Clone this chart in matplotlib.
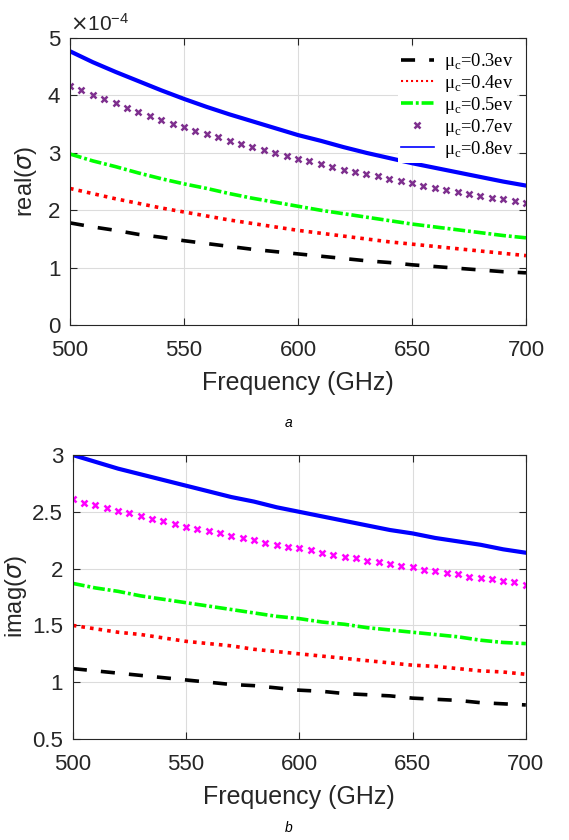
import matplotlib
matplotlib.use('Agg')
import matplotlib.pyplot as plt
import numpy as np

plt.rcParams['font.family'] = ['Liberation Sans', 'DejaVu Sans']

# frecuencias (GHz)
freq = [500, 510, 520, 530, 540, 550, 560, 570, 580, 590, 600,
        610, 620, 630, 640, 650, 660, 670, 680, 690, 700]
freq_mk = [500, 505, 510, 515, 520, 525, 530, 535, 540, 545, 550,
           555, 560, 565, 570, 575, 580, 585, 590, 595, 600,
           605, 610, 615, 620, 625, 630, 635, 640, 645, 650,
           655, 660, 665, 670, 675, 680, 685, 690, 695, 700]

# parte real (x1e-4)
re_03 = [1.78, 1.71, 1.65, 1.58, 1.53, 1.47, 1.42, 1.37, 1.32, 1.28, 1.24,
         1.20, 1.16, 1.12, 1.09, 1.05, 1.02, 0.99, 0.96, 0.93, 0.91]
re_04 = [2.38, 2.29, 2.20, 2.12, 2.04, 1.97, 1.90, 1.83, 1.77, 1.71, 1.65,
         1.60, 1.55, 1.50, 1.45, 1.41, 1.37, 1.33, 1.29, 1.25, 1.21]
re_05 = [2.98, 2.86, 2.76, 2.65, 2.55, 2.46, 2.38, 2.29, 2.21, 2.14, 2.07,
         2.00, 1.94, 1.88, 1.82, 1.76, 1.71, 1.66, 1.61, 1.56, 1.52]
re_07 = [4.17, 4.09, 4.01, 3.93, 3.86, 3.78, 3.71, 3.64, 3.57, 3.51, 3.45,
         3.38, 3.32, 3.27, 3.21, 3.15, 3.10, 3.05, 2.99, 2.94, 2.90,
         2.85, 2.80, 2.76, 2.71, 2.67, 2.63, 2.59, 2.55, 2.51, 2.47,
         2.43, 2.39, 2.36, 2.32, 2.29, 2.25, 2.22, 2.19, 2.16, 2.13]
re_08 = [4.77, 4.58, 4.41, 4.25, 4.09, 3.94, 3.80, 3.67, 3.55, 3.43, 3.31,
         3.21, 3.10, 3.00, 2.91, 2.82, 2.74, 2.66, 2.58, 2.50, 2.43]

# parte imaginaria
im_03 = [1.12, 1.10, 1.08, 1.06, 1.04, 1.02, 1.00, 0.98, 0.97, 0.95, 0.93,
         0.92, 0.90, 0.89, 0.88, 0.86, 0.85, 0.84, 0.82, 0.81, 0.80]
im_04 = [1.50, 1.47, 1.44, 1.42, 1.39, 1.36, 1.34, 1.32, 1.29, 1.27, 1.25,
         1.23, 1.21, 1.19, 1.17, 1.15, 1.14, 1.12, 1.10, 1.09, 1.07]
im_05 = [1.87, 1.83, 1.80, 1.76, 1.73, 1.70, 1.67, 1.64, 1.61, 1.58, 1.56,
         1.53, 1.51, 1.48, 1.46, 1.44, 1.42, 1.40, 1.37, 1.35, 1.34]
im_07 = [2.61, 2.58, 2.56, 2.53, 2.51, 2.49, 2.46, 2.44, 2.42, 2.39, 2.37,
         2.35, 2.33, 2.31, 2.29, 2.27, 2.25, 2.23, 2.21, 2.19, 2.18,
         2.16, 2.14, 2.12, 2.10, 2.09, 2.07, 2.06, 2.04, 2.02, 2.01,
         1.99, 1.98, 1.96, 1.95, 1.93, 1.92, 1.91, 1.89, 1.88, 1.86]
im_08 = [3.00, 2.94, 2.88, 2.83, 2.78, 2.73, 2.68, 2.63, 2.59, 2.54, 2.50,
         2.46, 2.42, 2.38, 2.34, 2.31, 2.27, 2.24, 2.21, 2.17, 2.14]

labels = ['μ$_\\mathregular{c}$=0.3ev', 'μ$_\\mathregular{c}$=0.4ev',
          'μ$_\\mathregular{c}$=0.5ev', 'μ$_\\mathregular{c}$=0.7ev',
          'μ$_\\mathregular{c}$=0.8ev']
xticks = [500, 550, 600, 650, 700]

txt = '#262626'


def estilo(ax):
    ax.set_xlim(500, 700)
    ax.set_xticks(xticks)
    ax.grid(True, color='#dcdcdc', linewidth=0.8)
    ax.set_axisbelow(True)
    ax.tick_params(direction='in', top=True, right=True, labelsize=16,
                   length=5, width=0.8, color=txt, labelcolor=txt)
    ax.tick_params(axis='x', pad=11)
    ax.tick_params(axis='y', pad=7)
    for s in ax.spines.values():
        s.set_color(txt)
        s.set_linewidth(0.8)
    ax.set_xlabel('Frequency (GHz)', fontsize=18, color=txt, labelpad=7)


def curvas(ax, d03, d04, d05, d07, d08, c07):
    ax.plot(freq, d03, color='black', lw=2.6, dashes=(3.9, 3.9), label=labels[0])
    ax.plot(freq, d04, color='red', lw=2.6, dashes=(1, 1.4), label=labels[1])
    ax.plot(freq, d05, color='#00ff00', lw=2.6, dashes=(3.3, 0.8, 0.8, 0.8), label=labels[2])
    ax.plot(freq_mk, d07, linestyle='none', marker='x', ms=5, mew=1.8,
            color=c07, label=labels[3])
    ax.plot(freq, d08, color='#0000ff', lw=3, label=labels[4])


fig = plt.figure(figsize=(5.69, 8.40), dpi=100)

# (a) parte real
ax1 = fig.add_axes([0.123, 0.613, 0.8014, 0.3417])
curvas(ax1, re_03, re_04, re_05, re_07, re_08, '#7e2f8e')
ax1.set_ylim(0, 5)
ax1.set_yticks([0, 1, 2, 3, 4, 5])
estilo(ax1)
ax1.set_ylabel(r'real($\sigma$)', fontsize=17, color=txt, labelpad=6)
ax1.text(0.0, 1.012, r'$\times\mathregular{10^{-4}}$', transform=ax1.transAxes,
         fontsize=15, color=txt, ha='left', va='bottom')
leg = ax1.legend(loc='upper right', frameon=True, fancybox=False,
                 prop={'family': 'Liberation Serif', 'size': 13.3},
                 handlelength=1.75, handletextpad=0.55, labelspacing=0.05,
                 borderaxespad=0.5, borderpad=0.2)
leg.get_frame().set_edgecolor('none')
leg.get_frame().set_facecolor('white')
leg.get_frame().set_alpha(1)
# lineas finas en la leyenda para rojo y azul
leg.get_lines()[1].set_linewidth(1.5)
leg.get_lines()[4].set_linewidth(1.2)
fig.text(0.508, 0.497, 'a', fontsize=10, style='italic', ha='center', va='center')

# (b) parte imaginaria
ax2 = fig.add_axes([0.128, 0.1202, 0.7961, 0.3381])
curvas(ax2, im_03, im_04, im_05, im_07, im_08, '#ff00ff')
ax2.set_ylim(0.5, 3)
ax2.set_yticks([0.5, 1, 1.5, 2, 2.5, 3])
ax2.set_yticklabels(['0.5', '1', '1.5', '2', '2.5', '3'])
estilo(ax2)
ax2.set_ylabel(r'imag($\sigma$)', fontsize=17, color=txt, labelpad=2)
fig.text(0.508, 0.014, 'b', fontsize=10, style='italic', ha='center', va='center')

fig.savefig('out.png', dpi=100)
